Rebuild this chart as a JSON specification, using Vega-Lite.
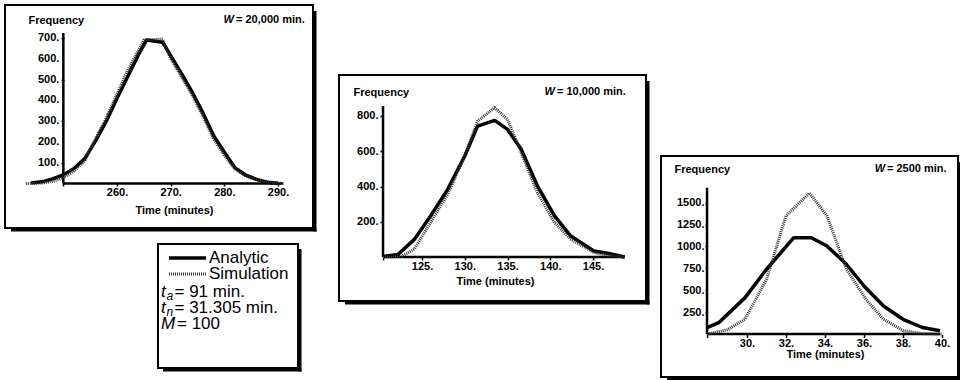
{
  "$schema": "https://vega.github.io/schema/vega-lite/v6.json",
  "padding": {"left": 4, "top": 4, "right": 0, "bottom": 0},
  "background": "white",
  "config": {
    "view": {"stroke": "black", "strokeWidth": 2},
    "axis": {"grid": false, "domain": false, "tickColor": "black", "tickWidth": 1.5, "tickSize": 3,
      "labelFont": "Liberation Sans", "labelFontWeight": "bold", "labelFontSize": 11, "labelColor": "black",
      "titleFont": "Liberation Sans", "titleFontWeight": "bold", "titleFontSize": 11, "titleColor": "black",
      "labelOverlap": false, "labelFlush": false},
    "text": {"font": "Liberation Sans", "color": "black"}
  },
  "datasets": {
    "p1": [
      {"s": "A", "t": 244, "f": 2}, {"s": "A", "t": 246, "f": 8}, {"s": "A", "t": 248, "f": 22}, {"s": "A", "t": 250, "f": 42},
      {"s": "A", "t": 252, "f": 72}, {"s": "A", "t": 254, "f": 120}, {"s": "A", "t": 256, "f": 205}, {"s": "A", "t": 258, "f": 300},
      {"s": "A", "t": 260, "f": 410}, {"s": "A", "t": 262, "f": 515}, {"s": "A", "t": 264, "f": 620}, {"s": "A", "t": 265.5, "f": 690},
      {"s": "A", "t": 268.5, "f": 680}, {"s": "A", "t": 270, "f": 615}, {"s": "A", "t": 272, "f": 530}, {"s": "A", "t": 274, "f": 440},
      {"s": "A", "t": 276, "f": 340}, {"s": "A", "t": 278, "f": 230}, {"s": "A", "t": 280, "f": 150}, {"s": "A", "t": 282, "f": 75},
      {"s": "A", "t": 284, "f": 40}, {"s": "A", "t": 286, "f": 20}, {"s": "A", "t": 288, "f": 6}, {"s": "A", "t": 290, "f": 1},
      {"s": "S", "t": 243, "f": 0}, {"s": "S", "t": 246, "f": 2}, {"s": "S", "t": 248, "f": 10}, {"s": "S", "t": 250, "f": 28},
      {"s": "S", "t": 252, "f": 60}, {"s": "S", "t": 254, "f": 110}, {"s": "S", "t": 256, "f": 215}, {"s": "S", "t": 258, "f": 315},
      {"s": "S", "t": 260, "f": 430}, {"s": "S", "t": 262, "f": 545}, {"s": "S", "t": 264, "f": 640}, {"s": "S", "t": 265, "f": 690},
      {"s": "S", "t": 268.5, "f": 695}, {"s": "S", "t": 270, "f": 600}, {"s": "S", "t": 272, "f": 515}, {"s": "S", "t": 274, "f": 425},
      {"s": "S", "t": 276, "f": 325}, {"s": "S", "t": 278, "f": 215}, {"s": "S", "t": 280, "f": 135}, {"s": "S", "t": 282, "f": 70},
      {"s": "S", "t": 284, "f": 35}, {"s": "S", "t": 286, "f": 18}, {"s": "S", "t": 288, "f": 8}, {"s": "S", "t": 290, "f": 2},
      {"s": "S", "t": 291, "f": 0}
    ],
    "p1labels": [
      {"v": 100, "lab": "100."}, {"v": 200, "lab": "200."}, {"v": 300, "lab": "300."}, {"v": 400, "lab": "400."},
      {"v": 500, "lab": "500."}, {"v": 600, "lab": "600."}, {"v": 700, "lab": "700."}
    ],
    "p2": [
      {"s": "A", "t": 120.44, "f": 3}, {"s": "A", "t": 122.2, "f": 15}, {"s": "A", "t": 124.1, "f": 100}, {"s": "A", "t": 126, "f": 233},
      {"s": "A", "t": 128, "f": 384}, {"s": "A", "t": 130, "f": 573}, {"s": "A", "t": 131.5, "f": 743}, {"s": "A", "t": 133.5, "f": 775},
      {"s": "A", "t": 135, "f": 724}, {"s": "A", "t": 136.6, "f": 611}, {"s": "A", "t": 138.5, "f": 403}, {"s": "A", "t": 140.5, "f": 233},
      {"s": "A", "t": 142.4, "f": 119}, {"s": "A", "t": 145.1, "f": 34}, {"s": "A", "t": 146.7, "f": 21}, {"s": "A", "t": 148.7, "f": 0},
      {"s": "S", "t": 120.44, "f": 0}, {"s": "S", "t": 122.6, "f": 3}, {"s": "S", "t": 124.1, "f": 45}, {"s": "S", "t": 126, "f": 195},
      {"s": "S", "t": 128, "f": 355}, {"s": "S", "t": 130, "f": 573}, {"s": "S", "t": 131.5, "f": 771}, {"s": "S", "t": 133.5, "f": 847},
      {"s": "S", "t": 135, "f": 781}, {"s": "S", "t": 136.6, "f": 592}, {"s": "S", "t": 138.5, "f": 365}, {"s": "S", "t": 140.5, "f": 195},
      {"s": "S", "t": 142.4, "f": 101}, {"s": "S", "t": 145.1, "f": 25}, {"s": "S", "t": 147, "f": 8}, {"s": "S", "t": 148.7, "f": 0}
    ],
    "p3": [
      {"s": "A", "t": 27.95, "f": 73}, {"s": "A", "t": 28.55, "f": 130}, {"s": "A", "t": 29.9, "f": 416}, {"s": "A", "t": 31.0, "f": 740},
      {"s": "A", "t": 32.4, "f": 1100}, {"s": "A", "t": 33.3, "f": 1100}, {"s": "A", "t": 34.1, "f": 1006}, {"s": "A", "t": 35.1, "f": 797},
      {"s": "A", "t": 36.0, "f": 549}, {"s": "A", "t": 37.0, "f": 321}, {"s": "A", "t": 38.0, "f": 169}, {"s": "A", "t": 39.0, "f": 75},
      {"s": "A", "t": 39.9, "f": 38},
      {"s": "S", "t": 27.95, "f": 0}, {"s": "S", "t": 29.0, "f": 50}, {"s": "S", "t": 29.9, "f": 170}, {"s": "S", "t": 31.0, "f": 625},
      {"s": "S", "t": 32.0, "f": 1350}, {"s": "S", "t": 33.2, "f": 1610}, {"s": "S", "t": 34.1, "f": 1350}, {"s": "S", "t": 35.1, "f": 740},
      {"s": "S", "t": 36.1, "f": 397}, {"s": "S", "t": 37.0, "f": 169}, {"s": "S", "t": 38.0, "f": 40}, {"s": "S", "t": 39.0, "f": 5},
      {"s": "S", "t": 40.0, "f": 0}
    ]
  },
  "spacing": 19,
  "hconcat": [
    {
      "vconcat": [
        {
          "width": 308, "height": 223,
          "layer": [
            {"data": {"values": [{}]}, "mark": {"type": "rule", "color": "black", "strokeWidth": 2.5},
             "encoding": {
               "x": {"datum": 250, "type": "quantitative", "scale": {"domain": [239.13, 296.52], "nice": false, "zero": false},
                 "axis": {"orient": "bottom", "offset": -45, "values": [250, 260, 270, 280, 290], "labelExpr": "datum.value == 250 ? '' : datum.value + '.'", "labelPadding": 0, "labelOverlap": false,
                   "title": "Time (minutes)", "titleX": 169, "titleY": 27, "titleAlign": "center", "titleBaseline": "middle"}},
               "y": {"datum": 0, "type": "quantitative", "scale": {"domain": [-214.1, 858.8], "nice": false, "zero": false},
                 "axis": {"orient": "left", "offset": -59, "values": [100, 200, 300, 400, 500, 600, 700], "labels": false,
                   "title": "Frequency", "titleAngle": 0, "titleX": -36, "titleY": 15, "titleAlign": "left", "titleBaseline": "middle"}},
               "y2": {"datum": 724}}},
            {"data": {"name": "p1labels"}, "mark": {"type": "text", "align": "right", "baseline": "middle", "fontWeight": "bold", "fontSize": 11, "dx": -4},
             "encoding": {
               "x": {"datum": 250, "type": "quantitative", "scale": {"domain": [239.13, 296.52], "nice": false, "zero": false}},
               "y": {"field": "v", "type": "quantitative", "scale": {"domain": [-214.1, 858.8], "nice": false, "zero": false}},
               "text": {"field": "lab"}}},
            {"data": {"values": [{}]}, "mark": {"type": "rule", "color": "black", "strokeWidth": 2.5},
             "encoding": {
               "x": {"datum": 250, "type": "quantitative", "scale": {"domain": [239.13, 296.52], "nice": false, "zero": false}},
               "x2": {"datum": 291},
               "y": {"datum": 0, "type": "quantitative", "scale": {"domain": [-214.1, 858.8], "nice": false, "zero": false}}}},
            {"data": {"values": [{}]}, "mark": {"type": "rule", "color": "black", "strokeWidth": 3, "xOffset": 6, "x2Offset": 3.5, "yOffset": 2},
             "encoding": {
               "x": {"datum": 239.13, "type": "quantitative", "scale": {"domain": [239.13, 296.52], "nice": false, "zero": false}},
               "x2": {"datum": 296.52},
               "y": {"datum": -214.1, "type": "quantitative", "scale": {"domain": [-214.1, 858.8], "nice": false, "zero": false}}}},
            {"data": {"values": [{}]}, "mark": {"type": "rule", "color": "black", "strokeWidth": 3, "xOffset": 2, "yOffset": 6, "y2Offset": 3.5},
             "encoding": {
               "x": {"datum": 296.52, "type": "quantitative", "scale": {"domain": [239.13, 296.52], "nice": false, "zero": false}},
               "y": {"datum": 858.8, "type": "quantitative", "scale": {"domain": [-214.1, 858.8], "nice": false, "zero": false}},
               "y2": {"datum": -214.1}}},
            {"data": {"name": "p1"}, "transform": [{"filter": "datum.s == 'A'"}],
             "mark": {"type": "line", "color": "black", "strokeWidth": 3.5, "strokeJoin": "round"},
             "encoding": {
               "x": {"field": "t", "type": "quantitative", "scale": {"domain": [239.13, 296.52], "nice": false, "zero": false}},
               "y": {"field": "f", "type": "quantitative", "scale": {"domain": [-214.1, 858.8], "nice": false, "zero": false}}}},
            {"data": {"name": "p1"}, "transform": [{"filter": "datum.s == 'S'"}],
             "mark": {"type": "line", "color": "#333333", "strokeWidth": 3, "strokeDash": [1, 1]},
             "encoding": {
               "x": {"field": "t", "type": "quantitative", "scale": {"domain": [239.13, 296.52], "nice": false, "zero": false}},
               "y": {"field": "f", "type": "quantitative", "scale": {"domain": [-214.1, 858.8], "nice": false, "zero": false}}}},
            {"data": {"values": [{}]}, "mark": {"type": "text", "fontStyle": "italic", "fontWeight": "bold", "fontSize": 11, "align": "right", "baseline": "middle"},
             "encoding": {
               "x": {"datum": 281.8, "type": "quantitative", "scale": {"domain": [239.13, 296.52], "nice": false, "zero": false}},
               "y": {"datum": 786.6, "type": "quantitative", "scale": {"domain": [-214.1, 858.8], "nice": false, "zero": false}},
               "text": {"value": "W"}}},
            {"data": {"values": [{}]}, "mark": {"type": "text", "fontWeight": "bold", "fontSize": 11, "align": "left", "baseline": "middle"},
             "encoding": {
               "x": {"datum": 282.17, "type": "quantitative", "scale": {"domain": [239.13, 296.52], "nice": false, "zero": false}},
               "y": {"datum": 786.6, "type": "quantitative", "scale": {"domain": [-214.1, 858.8], "nice": false, "zero": false}},
               "text": {"value": "= 20,000 min."}}}
          ]
        },
        {
          "hconcat": [
            {"width": 152, "height": 124, "data": {"values": []}, "mark": "point", "view": {"stroke": null}},
            {
              "width": 140, "height": 124,
              "data": {"values": [{}]},
              "layer": [
                {"mark": {"type": "rule", "color": "black", "strokeWidth": 3, "xOffset": 5, "x2Offset": 3.5, "yOffset": 2},
                 "encoding": {
                   "x": {"datum": 0, "type": "quantitative", "scale": {"domain": [0, 140], "nice": false, "zero": false}, "axis": null},
                   "x2": {"datum": 140},
                   "y": {"datum": 124, "type": "quantitative", "scale": {"domain": [0, 124], "reverse": true, "nice": false, "zero": false}, "axis": null}}},
                {"mark": {"type": "rule", "color": "black", "strokeWidth": 3, "xOffset": 2, "yOffset": 5, "y2Offset": 3.5},
                 "encoding": {
                   "x": {"datum": 140, "type": "quantitative", "scale": {"domain": [0, 140], "nice": false, "zero": false}, "axis": null},
                   "y": {"datum": 0, "type": "quantitative", "scale": {"domain": [0, 124], "reverse": true, "nice": false, "zero": false}, "axis": null},
                   "y2": {"datum": 124}}},
                {"mark": {"type": "rule", "color": "black", "strokeWidth": 3.5},
                 "encoding": {
                   "x": {"datum": 11, "type": "quantitative", "scale": {"domain": [0, 140], "nice": false, "zero": false}, "axis": null},
                   "x2": {"datum": 48},
                   "y": {"datum": 14, "type": "quantitative", "scale": {"domain": [0, 124], "reverse": true, "nice": false, "zero": false}, "axis": null}}},
                {"mark": {"type": "rule", "color": "#333333", "strokeWidth": 3, "strokeDash": [1, 1]},
                 "encoding": {
                   "x": {"datum": 11, "type": "quantitative", "scale": {"domain": [0, 140], "nice": false, "zero": false}, "axis": null},
                   "x2": {"datum": 48},
                   "y": {"datum": 30, "type": "quantitative", "scale": {"domain": [0, 124], "reverse": true, "nice": false, "zero": false}, "axis": null}}},
                {"mark": {"type": "text", "fontSize": 17, "align": "left", "baseline": "middle"},
                 "encoding": {
                   "x": {"datum": 51, "type": "quantitative", "scale": {"domain": [0, 140], "nice": false, "zero": false}, "axis": null},
                   "y": {"datum": 14, "type": "quantitative", "scale": {"domain": [0, 124], "reverse": true, "nice": false, "zero": false}, "axis": null},
                   "text": {"value": "Analytic"}}},
                {"mark": {"type": "text", "fontSize": 17, "align": "left", "baseline": "middle"},
                 "encoding": {
                   "x": {"datum": 51, "type": "quantitative", "scale": {"domain": [0, 140], "nice": false, "zero": false}, "axis": null},
                   "y": {"datum": 30, "type": "quantitative", "scale": {"domain": [0, 124], "reverse": true, "nice": false, "zero": false}, "axis": null},
                   "text": {"value": "Simulation"}}},
                {"mark": {"type": "text", "fontSize": 17, "fontStyle": "italic", "align": "left", "baseline": "middle"},
                 "encoding": {
                   "x": {"datum": 3, "type": "quantitative", "scale": {"domain": [0, 140], "nice": false, "zero": false}, "axis": null},
                   "y": {"datum": 48, "type": "quantitative", "scale": {"domain": [0, 124], "reverse": true, "nice": false, "zero": false}, "axis": null},
                   "text": {"value": "t"}}},
                {"mark": {"type": "text", "fontSize": 12, "fontStyle": "italic", "align": "left", "baseline": "middle"},
                 "encoding": {
                   "x": {"datum": 8.5, "type": "quantitative", "scale": {"domain": [0, 140], "nice": false, "zero": false}, "axis": null},
                   "y": {"datum": 52, "type": "quantitative", "scale": {"domain": [0, 124], "reverse": true, "nice": false, "zero": false}, "axis": null},
                   "text": {"value": "a"}}},
                {"mark": {"type": "text", "fontSize": 17, "align": "left", "baseline": "middle"},
                 "encoding": {
                   "x": {"datum": 16.5, "type": "quantitative", "scale": {"domain": [0, 140], "nice": false, "zero": false}, "axis": null},
                   "y": {"datum": 48, "type": "quantitative", "scale": {"domain": [0, 124], "reverse": true, "nice": false, "zero": false}, "axis": null},
                   "text": {"value": "= 91 min."}}},
                {"mark": {"type": "text", "fontSize": 17, "fontStyle": "italic", "align": "left", "baseline": "middle"},
                 "encoding": {
                   "x": {"datum": 3, "type": "quantitative", "scale": {"domain": [0, 140], "nice": false, "zero": false}, "axis": null},
                   "y": {"datum": 64, "type": "quantitative", "scale": {"domain": [0, 124], "reverse": true, "nice": false, "zero": false}, "axis": null},
                   "text": {"value": "t"}}},
                {"mark": {"type": "text", "fontSize": 12, "fontStyle": "italic", "align": "left", "baseline": "middle"},
                 "encoding": {
                   "x": {"datum": 8.5, "type": "quantitative", "scale": {"domain": [0, 140], "nice": false, "zero": false}, "axis": null},
                   "y": {"datum": 68, "type": "quantitative", "scale": {"domain": [0, 124], "reverse": true, "nice": false, "zero": false}, "axis": null},
                   "text": {"value": "n"}}},
                {"mark": {"type": "text", "fontSize": 17, "align": "left", "baseline": "middle"},
                 "encoding": {
                   "x": {"datum": 16.5, "type": "quantitative", "scale": {"domain": [0, 140], "nice": false, "zero": false}, "axis": null},
                   "y": {"datum": 64, "type": "quantitative", "scale": {"domain": [0, 124], "reverse": true, "nice": false, "zero": false}, "axis": null},
                   "text": {"value": "= 31.305 min."}}},
                {"mark": {"type": "text", "fontSize": 17, "fontStyle": "italic", "align": "left", "baseline": "middle"},
                 "encoding": {
                   "x": {"datum": 3, "type": "quantitative", "scale": {"domain": [0, 140], "nice": false, "zero": false}, "axis": null},
                   "y": {"datum": 80, "type": "quantitative", "scale": {"domain": [0, 124], "reverse": true, "nice": false, "zero": false}, "axis": null},
                   "text": {"value": "M"}}},
                {"mark": {"type": "text", "fontSize": 17, "align": "left", "baseline": "middle"},
                 "encoding": {
                   "x": {"datum": 19, "type": "quantitative", "scale": {"domain": [0, 140], "nice": false, "zero": false}, "axis": null},
                   "y": {"datum": 80, "type": "quantitative", "scale": {"domain": [0, 124], "reverse": true, "nice": false, "zero": false}, "axis": null},
                   "text": {"value": "= 100"}}}
              ]
            }
          ],
          "spacing": 0
        }
      ],
      "spacing": 9
    },
    {
      "hconcat": [
        {
          "vconcat": [
            {"width": 307, "height": 69, "data": {"values": []}, "mark": "point", "view": {"stroke": null}},
            {
              "width": 307, "height": 226,
              "layer": [
                {"data": {"values": [{}]}, "mark": {"type": "rule", "color": "black", "strokeWidth": 2.5},
                 "encoding": {
                   "x": {"datum": 120.44, "type": "quantitative", "scale": {"domain": [115.29, 151.2], "nice": false, "zero": false},
                     "axis": {"orient": "bottom", "offset": -44, "values": [120.44, 125, 130, 135, 140, 145], "labelExpr": "datum.value < 121 ? '' : datum.value + '.'", "labelPadding": 0, "labelOverlap": false,
                       "title": "Time (minutes)", "titleX": 156, "titleY": 24, "titleAlign": "center", "titleBaseline": "middle"}},
                   "y": {"datum": 0, "type": "quantitative", "scale": {"domain": [-249.6, 1032.6], "nice": false, "zero": false},
                     "axis": {"orient": "left", "offset": -44, "values": [200, 400, 600, 800], "labelExpr": "datum.value + '.'", "labelPadding": 2, "labelOverlap": false,
                       "title": "Frequency", "titleAngle": 0, "titleX": -30, "titleY": 17, "titleAlign": "left", "titleBaseline": "middle"}},
                   "y2": {"datum": 857}}},
                {"data": {"values": [{}]}, "mark": {"type": "rule", "color": "black", "strokeWidth": 2.5},
                 "encoding": {
                   "x": {"datum": 120.44, "type": "quantitative", "scale": {"domain": [115.29, 151.2], "nice": false, "zero": false}},
                   "x2": {"datum": 148.7},
                   "y": {"datum": 0, "type": "quantitative", "scale": {"domain": [-249.6, 1032.6], "nice": false, "zero": false}}}},
                {"data": {"values": [{}]}, "mark": {"type": "rule", "color": "black", "strokeWidth": 3, "xOffset": 6, "x2Offset": 3.5, "yOffset": 2},
                 "encoding": {
                   "x": {"datum": 115.29, "type": "quantitative", "scale": {"domain": [115.29, 151.2], "nice": false, "zero": false}},
                   "x2": {"datum": 151.2},
                   "y": {"datum": -249.6, "type": "quantitative", "scale": {"domain": [-249.6, 1032.6], "nice": false, "zero": false}}}},
                {"data": {"values": [{}]}, "mark": {"type": "rule", "color": "black", "strokeWidth": 3, "xOffset": 2, "yOffset": 6, "y2Offset": 3.5},
                 "encoding": {
                   "x": {"datum": 151.2, "type": "quantitative", "scale": {"domain": [115.29, 151.2], "nice": false, "zero": false}},
                   "y": {"datum": 1032.6, "type": "quantitative", "scale": {"domain": [-249.6, 1032.6], "nice": false, "zero": false}},
                   "y2": {"datum": -249.6}}},
                {"data": {"name": "p2"}, "transform": [{"filter": "datum.s == 'A'"}],
                 "mark": {"type": "line", "color": "black", "strokeWidth": 3.5, "strokeJoin": "round"},
                 "encoding": {
                   "x": {"field": "t", "type": "quantitative", "scale": {"domain": [115.29, 151.2], "nice": false, "zero": false}},
                   "y": {"field": "f", "type": "quantitative", "scale": {"domain": [-249.6, 1032.6], "nice": false, "zero": false}}}},
                {"data": {"name": "p2"}, "transform": [{"filter": "datum.s == 'S'"}],
                 "mark": {"type": "line", "color": "#333333", "strokeWidth": 3, "strokeDash": [1, 1]},
                 "encoding": {
                   "x": {"field": "t", "type": "quantitative", "scale": {"domain": [115.29, 151.2], "nice": false, "zero": false}},
                   "y": {"field": "f", "type": "quantitative", "scale": {"domain": [-249.6, 1032.6], "nice": false, "zero": false}}}},
                {"data": {"values": [{}]}, "mark": {"type": "text", "fontStyle": "italic", "fontWeight": "bold", "fontSize": 11, "align": "right", "baseline": "middle"},
                 "encoding": {
                   "x": {"datum": 140.55, "type": "quantitative", "scale": {"domain": [115.29, 151.2], "nice": false, "zero": false}},
                   "y": {"datum": 936.2, "type": "quantitative", "scale": {"domain": [-249.6, 1032.6], "nice": false, "zero": false}},
                   "text": {"value": "W"}}},
                {"data": {"values": [{}]}, "mark": {"type": "text", "fontWeight": "bold", "fontSize": 11, "align": "left", "baseline": "middle"},
                 "encoding": {
                   "x": {"datum": 140.79, "type": "quantitative", "scale": {"domain": [115.29, 151.2], "nice": false, "zero": false}},
                   "y": {"datum": 936.2, "type": "quantitative", "scale": {"domain": [-249.6, 1032.6], "nice": false, "zero": false}},
                   "text": {"value": "= 10,000 min."}}}
              ]
            }
          ],
          "spacing": 0
        },
        {
          "vconcat": [
            {"width": 297, "height": 150, "data": {"values": []}, "mark": "point", "view": {"stroke": null}},
            {
              "width": 297, "height": 221,
              "layer": [
                {"data": {"values": [{}]}, "mark": {"type": "rule", "color": "black", "strokeWidth": 2.5},
                 "encoding": {
                   "x": {"datum": 27.95, "type": "quantitative", "scale": {"domain": [25.59, 40.82], "nice": false, "zero": false},
                     "axis": {"orient": "bottom", "offset": -42.5, "values": [27.95, 30, 32, 34, 36, 38, 40], "labelExpr": "datum.value < 29 ? '' : datum.value + '.'", "labelPadding": 0, "labelOverlap": false,
                       "title": "Time (minutes)", "titleX": 164, "titleY": 20, "titleAlign": "center", "titleBaseline": "middle"}},
                   "y": {"datum": 0, "type": "quantitative", "scale": {"domain": [-490, 2033], "nice": false, "zero": false},
                     "axis": {"orient": "left", "offset": -46, "values": [250, 500, 750, 1000, 1250, 1500], "labelExpr": "datum.value + '.'", "labelPadding": 1, "tickSize": 2, "labelOverlap": false,
                       "title": "Frequency", "titleAngle": 0, "titleX": -33, "titleY": 13, "titleAlign": "left", "titleBaseline": "middle"}},
                   "y2": {"datum": 1671}}},
                {"data": {"values": [{}]}, "mark": {"type": "rule", "color": "black", "strokeWidth": 2.5},
                 "encoding": {
                   "x": {"datum": 27.95, "type": "quantitative", "scale": {"domain": [25.59, 40.82], "nice": false, "zero": false}},
                   "x2": {"datum": 39.9},
                   "y": {"datum": 0, "type": "quantitative", "scale": {"domain": [-490, 2033], "nice": false, "zero": false}}}},
                {"data": {"values": [{}]}, "mark": {"type": "rule", "color": "black", "strokeWidth": 3, "xOffset": 6, "x2Offset": 3.5, "yOffset": 2},
                 "encoding": {
                   "x": {"datum": 25.59, "type": "quantitative", "scale": {"domain": [25.59, 40.82], "nice": false, "zero": false}},
                   "x2": {"datum": 40.82},
                   "y": {"datum": -490, "type": "quantitative", "scale": {"domain": [-490, 2033], "nice": false, "zero": false}}}},
                {"data": {"values": [{}]}, "mark": {"type": "rule", "color": "black", "strokeWidth": 3, "xOffset": 2, "yOffset": 6, "y2Offset": 3.5},
                 "encoding": {
                   "x": {"datum": 40.82, "type": "quantitative", "scale": {"domain": [25.59, 40.82], "nice": false, "zero": false}},
                   "y": {"datum": 2033, "type": "quantitative", "scale": {"domain": [-490, 2033], "nice": false, "zero": false}},
                   "y2": {"datum": -490}}},
                {"data": {"name": "p3"}, "transform": [{"filter": "datum.s == 'A'"}],
                 "mark": {"type": "line", "color": "black", "strokeWidth": 3.5, "strokeJoin": "round"},
                 "encoding": {
                   "x": {"field": "t", "type": "quantitative", "scale": {"domain": [25.59, 40.82], "nice": false, "zero": false}},
                   "y": {"field": "f", "type": "quantitative", "scale": {"domain": [-490, 2033], "nice": false, "zero": false}}}},
                {"data": {"name": "p3"}, "transform": [{"filter": "datum.s == 'S'"}],
                 "mark": {"type": "line", "color": "#333333", "strokeWidth": 3, "strokeDash": [1, 1]},
                 "encoding": {
                   "x": {"field": "t", "type": "quantitative", "scale": {"domain": [25.59, 40.82], "nice": false, "zero": false}},
                   "y": {"field": "f", "type": "quantitative", "scale": {"domain": [-490, 2033], "nice": false, "zero": false}}}},
                {"data": {"values": [{}]}, "mark": {"type": "text", "fontStyle": "italic", "fontWeight": "bold", "fontSize": 11, "align": "right", "baseline": "middle"},
                 "encoding": {
                   "x": {"datum": 37.08, "type": "quantitative", "scale": {"domain": [25.59, 40.82], "nice": false, "zero": false}},
                   "y": {"datum": 1881, "type": "quantitative", "scale": {"domain": [-490, 2033], "nice": false, "zero": false}},
                   "text": {"value": "W"}}},
                {"data": {"values": [{}]}, "mark": {"type": "text", "fontWeight": "bold", "fontSize": 11, "align": "left", "baseline": "middle"},
                 "encoding": {
                   "x": {"datum": 37.18, "type": "quantitative", "scale": {"domain": [25.59, 40.82], "nice": false, "zero": false}},
                   "y": {"datum": 1881, "type": "quantitative", "scale": {"domain": [-490, 2033], "nice": false, "zero": false}},
                   "text": {"value": "= 2500 min."}}}
              ]
            }
          ],
          "spacing": 0
        }
      ],
      "spacing": 8
    }
  ]
}
